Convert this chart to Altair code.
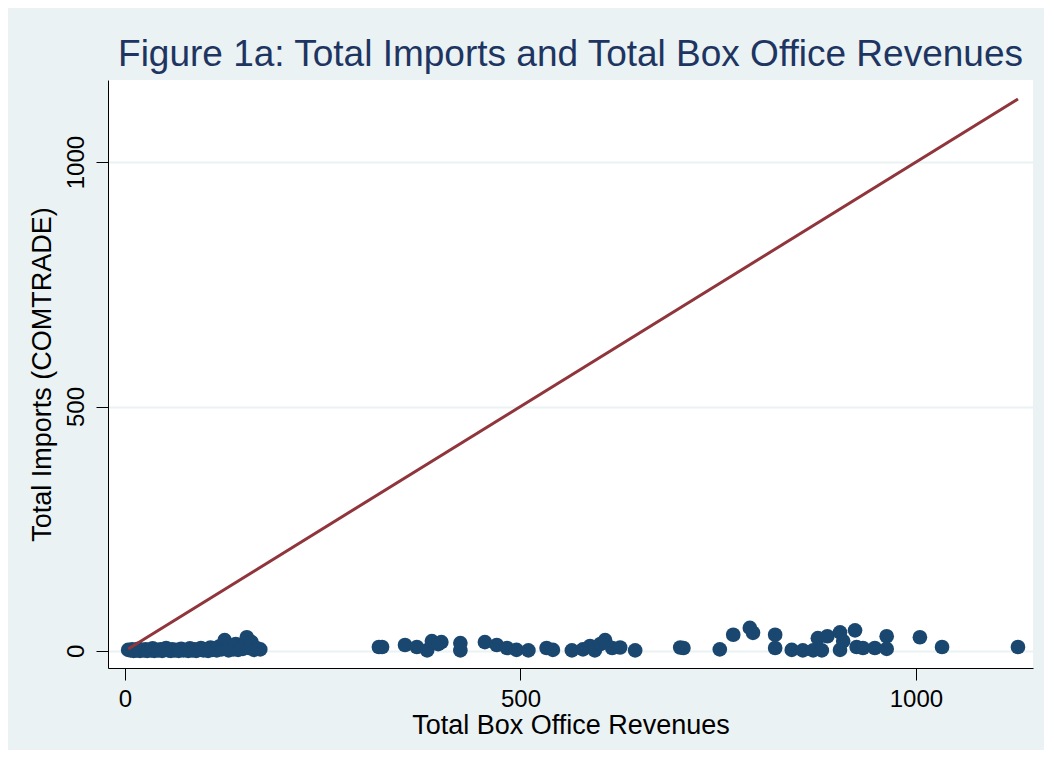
import altair as alt
import pandas as pd

# Scatter data: total box office revenues (x) vs total imports (y)
revenues = [4, 7, 9, 11, 13, 15, 17, 19, 21, 24, 26, 28, 30, 33, 35, 37, 40, 42, 45, 47,
            50, 52, 55, 58, 60, 63, 66, 68, 71, 74, 77, 80, 82, 85, 88, 90, 93, 96, 99, 102,
            105, 108, 110, 113, 116, 119, 122, 126, 128, 131, 134, 137, 140, 143, 146, 149,
            152, 154, 157, 160, 163, 167, 171,
            321, 325, 354, 369, 382, 388, 396, 400, 424, 424, 455, 470, 483, 495, 510, 533,
            541, 565, 579, 588, 594, 601, 607, 616, 626, 645, 702, 706, 752, 769, 790, 794,
            822, 822, 843, 857, 870, 881, 876, 888, 904, 904, 908, 923, 925, 933, 948, 963,
            963, 1005, 1033, 1129]
imports = [2, 1, 3, 0, 2, 1, 4, 0, 2, 1, 3, 0, 2, 1, 5, 0, 2, 1, 3, 0,
           2, 6, 1, 0, 3, 1, 2, 0, 4, 1, 2, 0, 5, 1, 3, 0, 2, 6, 1, 3,
           0, 7, 2, 4, 1, 9, 3, 22, 5, 1, 10, 3, 14, 2, 8, 4,
           12, 28, 6, 18, 2, 5, 3,
           8, 8, 12, 8, 1, 20, 14, 18, 16, 1, 18, 12, 6, 2, 1, 6,
           2, 1, 3, 10, 1, 14, 22, 6, 7, 1, 7, 6, 3, 33, 47, 37,
           33, 6, 2, 1, 1, 1, 26, 30, 38, 2, 20, 42, 8, 6, 6, 30,
           4, 28, 8, 8]

# 45-degree reference line (y = x over the range of x)
line_revenues = [4, 1129]
line_imports = [4, 1129]

x_ticks = [0, 500, 1000]
y_ticks = [0, 500, 1000]

pts = pd.DataFrame({"rev": revenues, "imp": imports})
ln = pd.DataFrame({"rev": line_revenues, "imp": line_imports})

FONT = "Liberation Sans, Arial"
BG = "#EAF2F3"

xscale = alt.Scale(domain=[-21.5, 1148], nice=False, zero=False)
yscale = alt.Scale(domain=[-35, 1168], nice=False, zero=False)

xaxis = alt.Axis(
    title="Total Box Office Revenues", values=x_ticks, grid=False, format="d",
    domainColor="black", domainWidth=1, tickColor="black", tickWidth=1, tickSize=12,
    labelFont=FONT, labelFontSize=24, labelColor="black", labelPadding=7, labelFlush=False,
    titleFont=FONT, titleFontSize=27, titleFontWeight="normal", titleColor="black",
    titlePadding=1,
)
yaxis = alt.Axis(
    title="Total Imports (COMTRADE)", values=y_ticks, grid=True, gridColor=BG, gridWidth=2,
    format="d", domainColor="black", domainWidth=1, tickColor="black", tickWidth=1,
    tickSize=12, labelFont=FONT, labelFontSize=24, labelColor="black", labelPadding=8,
    labelAngle=270, labelAlign="center", labelBaseline="bottom", labelFlush=False,
    titleFont=FONT, titleFontSize=27, titleFontWeight="normal", titleColor="black",
    titlePadding=8,
)

points = alt.Chart(pts).mark_circle(size=215, color="#1A476F", opacity=1).encode(
    x=alt.X("rev:Q", scale=xscale, axis=xaxis),
    y=alt.Y("imp:Q", scale=yscale, axis=yaxis),
)
line = alt.Chart(ln).mark_line(color="#90353B", strokeWidth=3).encode(
    x=alt.X("rev:Q", scale=xscale),
    y=alt.Y("imp:Q", scale=yscale),
)

chart = alt.layer(points, line).properties(
    width=925,
    height=588,
    title=alt.TitleParams(
        text="Figure 1a: Total Imports and Total Box Office Revenues",
        font=FONT, fontSize=37, fontWeight="normal", color="#1E3561",
        anchor="middle", offset=6,
    ),
    background=BG,
    padding={"left": 100, "top": 72, "right": 11, "bottom": 82},
    autosize=alt.AutoSizeParams(type="none"),
).configure_view(stroke=None, fill="white")

chart.save("out.html", embed_options={"renderer": "svg", "actions": False})
